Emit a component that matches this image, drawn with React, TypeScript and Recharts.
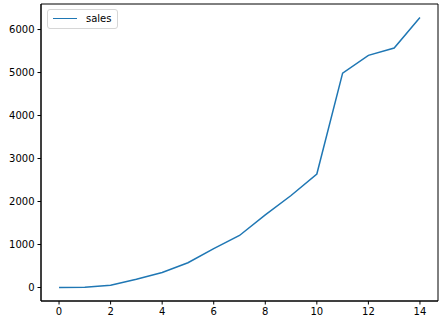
import React from 'react'
import {
  LineChart,
  Line,
  XAxis,
  YAxis,
  ReferenceArea,
} from 'recharts'

// ── Data ───────────────────────────────────────────────────
const days: number[] = [0, 1, 2, 3, 4, 5, 6, 7, 8, 9, 10, 11, 12, 13, 14]
const sales: number[] = [0, 5, 55, 190, 350, 575, 905, 1210, 1690, 2140, 2640, 4985, 5400, 5570, 6280]
const xTicks: number[] = [0, 2, 4, 6, 8, 10, 12, 14]
const yTicks: number[] = [0, 1000, 2000, 3000, 4000, 5000, 6000]

const data = days.map((d, i) => ({ day: d, sales: sales[i] }))

const X_DOMAIN: [number, number] = [-0.7, 14.7]
const Y_DOMAIN: [number, number] = [-314, 6594]

const FONT = '"DejaVu Sans", sans-serif'
const BLUE = '#1f77b4'
const INK = '#000'

// ── Legend box (matplotlib style) ──────────────────────────
function SalesLegend() {
  return (
    <div
      style={{
        position: 'absolute',
        left: 47,
        top: 9,
        display: 'flex',
        alignItems: 'center',
        border: '1px solid #d6d6d6',
        borderRadius: 3,
        background: 'rgba(255,255,255,0.8)',
        padding: '3px 6px 4px 5px',
        fontFamily: FONT,
        fontSize: 10,
        color: INK,
      }}
    >
      <span style={{ display: 'inline-block', width: 24, height: 0, borderTop: `1.5px solid ${BLUE}`, marginRight: 9 }} />
      <span>sales</span>
    </div>
  )
}

export default function App() {
  const tick = { fontSize: 10, fill: INK, fontFamily: FONT }
  return (
    <div style={{ position: 'absolute', left: 0, top: 0, width: 444, height: 324, background: '#fff' }}>
      <LineChart width={444} height={324} data={data} margin={{ top: 4, right: 6, bottom: 0, left: 0 }}>
        <XAxis
          dataKey="day"
          type="number"
          domain={X_DOMAIN}
          ticks={xTicks}
          allowDataOverflow
          height={23}
          tick={tick}
          tickSize={3.5}
          tickMargin={3}
          stroke={INK}
          axisLine={{ stroke: INK, strokeWidth: 1 }}
          tickLine={{ stroke: INK }}
        />
        <YAxis
          type="number"
          domain={Y_DOMAIN}
          ticks={yTicks}
          allowDataOverflow
          width={41}
          tick={tick}
          tickSize={3.5}
          tickMargin={3}
          stroke={INK}
          axisLine={{ stroke: INK, strokeWidth: 1 }}
          tickLine={{ stroke: INK }}
        />
        {/* plot frame */}
        <ReferenceArea
          x1={X_DOMAIN[0]}
          x2={X_DOMAIN[1]}
          y1={Y_DOMAIN[0]}
          y2={Y_DOMAIN[1]}
          fill="none"
          fillOpacity={0}
          stroke={INK}
          strokeWidth={1}
          ifOverflow="visible"
        />
        <Line
          type="linear"
          dataKey="sales"
          name="sales"
          stroke={BLUE}
          strokeWidth={1.5}
          dot={false}
          isAnimationActive={false}
        />
      </LineChart>
      <SalesLegend />
    </div>
  )
}
